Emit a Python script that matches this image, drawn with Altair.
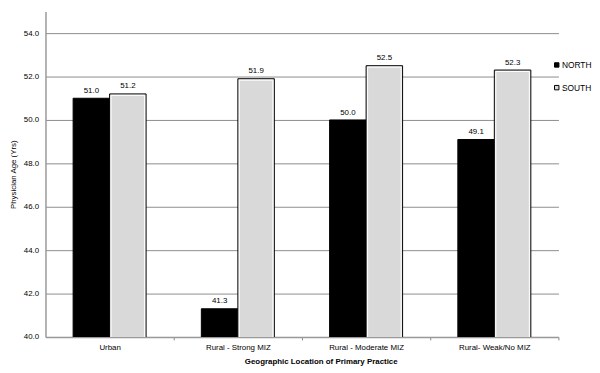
import altair as alt
import pandas as pd

categories = ["Urban", "Rural - Strong MIZ", "Rural - Moderate MIZ", "Rural- Weak/No MIZ"]
regions = ["NORTH", "SOUTH"]
north_values = [51.0, 41.3, 50.0, 49.1]
south_values = [51.2, 51.9, 52.5, 52.3]
y_ticks = [40, 42, 44, 46, 48, 50, 52, 54]

rows = []
for c, n, s in zip(categories, north_values, south_values):
    rows.append({"category": c, "region": "NORTH", "value": n})
    rows.append({"category": c, "region": "SOUTH", "value": s})
df = pd.DataFrame(rows)

FONT = "Liberation Sans"

x_enc = alt.X(
    "category:N",
    sort=categories,
    scale=alt.Scale(paddingInner=0, paddingOuter=0),
    axis=alt.Axis(
        title="Geographic Location of Primary Practice",
        labelAngle=0,
        tickOffset=65,
        labelOffset=-65,
        tickSize=3,
        tickColor="#888888",
        labelPadding=4,
        titlePadding=6,
        titleX=279,
        titleFontWeight="bold",
        domainColor="#999999",
        domainWidth=1.5,
        grid=False,
    ),
)
xoff_enc = alt.XOffset(
    "region:N",
    sort=regions,
    scale=alt.Scale(domain=regions, paddingInner=0, paddingOuter=0.757),
)
y_enc = alt.Y(
    "value:Q",
    scale=alt.Scale(domain=[40, 55], nice=False, zero=False),
    axis=alt.Axis(
        title="Physician Age (Yrs)",
        values=y_ticks,
        format=".1f",
        ticks=False,
        labelPadding=7,
        titlePadding=6,
        domainColor="#999999",
        domainWidth=1.5,
        gridColor="#8c8c8c",
        gridWidth=1,
    ),
)

bars = alt.Chart(df).mark_bar(stroke="black", strokeWidth=1, clip=True).encode(
    x=x_enc,
    xOffset=xoff_enc,
    y=y_enc,
    fill=alt.Fill(
        "region:N",
        sort=regions,
        scale=alt.Scale(domain=regions, range=["#000000", "#d9d9d9"]),
        legend=alt.Legend(
            title=None,
            orient="none",
            legendX=514,
            legendY=50,
            symbolType="square",
            symbolSize=20,
            symbolStrokeColor="black",
            symbolStrokeWidth=1,
            labelOffset=1,
            rowPadding=14,
            padding=0,
            labelFont=FONT,
            labelFontSize=8.5,
            labelColor="black",
        ),
    ),
)

inset = (
    alt.Chart(df)
    .transform_filter(alt.datum.region == "SOUTH")
    .mark_bar(
        fillOpacity=0,
        stroke="white",
        strokeWidth=1,
        clip=True,
        width=34,
        yOffset=1.5,
    )
    .encode(
        x=alt.X("category:N", sort=categories),
        xOffset=alt.XOffset("region:N", sort=regions),
        y=alt.Y("value:Q"),
    )
)

labels = alt.Chart(df).mark_text(
    baseline="alphabetic", dy=-5.5, font=FONT, fontSize=8, color="black"
).encode(
    x=alt.X("category:N", sort=categories),
    xOffset=alt.XOffset("region:N", sort=regions),
    y=alt.Y("value:Q"),
    text=alt.Text("value:Q", format=".1f"),
)

chart = (
    alt.layer(bars, inset, labels)
    .properties(
        width=520,
        height=330,
        autosize=alt.AutoSizeParams(type="none"),
        padding={"left": 38, "top": 1, "right": 34, "bottom": 32},
        background="white",
    )
    .configure_view(stroke=None)
    .configure_axis(
        labelFont=FONT,
        titleFont=FONT,
        labelFontSize=8,
        titleFontSize=8,
        labelColor="black",
        titleColor="black",
    )
    .configure_axisY(titleFontWeight="normal")
)

chart.save("out.html", embed_options={"renderer": "svg", "actions": False})
